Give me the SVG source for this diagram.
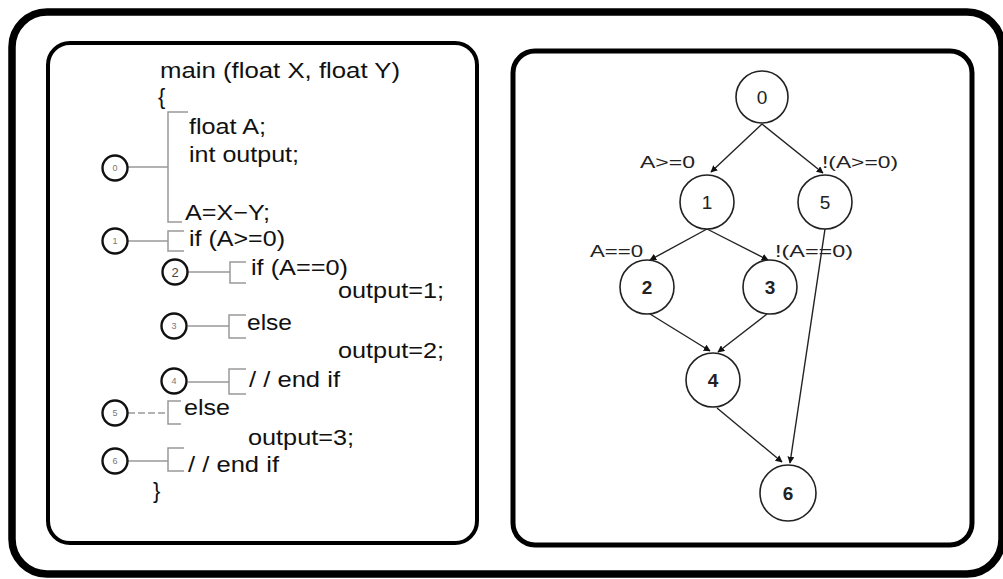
<svg xmlns="http://www.w3.org/2000/svg" width="1003" height="579" viewBox="0 0 1003 579">
<defs>
<style>
.frame{fill:none;stroke:#000}
.code{font-family:"Liberation Sans",Arial,sans-serif;font-size:22px;fill:#111}
.tag{fill:#fff;stroke:#111;stroke-width:2.4}
.tagt{font-family:"Liberation Sans",Arial,sans-serif;font-size:9px;fill:#777;text-anchor:middle}
.lead{fill:none;stroke:#999;stroke-width:1.5}
.node{fill:#fff;stroke:#222;stroke-width:1.6}
.nodet{font-family:"Liberation Sans",Arial,sans-serif;font-size:19px;fill:#222;text-anchor:middle}
.edge{fill:none;stroke:#222;stroke-width:1.4;marker-end:url(#arr)}
.elab{font-family:"Liberation Sans",Arial,sans-serif;font-size:17px;fill:#222}
</style>
<marker id="arr" viewBox="0 0 10 10" refX="9" refY="5" markerWidth="7" markerHeight="7" orient="auto" markerUnits="userSpaceOnUse">
<path d="M0,0 L10,5 L0,10 z" fill="#111"/>
</marker>
</defs>
<rect width="1003" height="579" fill="#fff"/>
<rect class="frame" x="12" y="12" width="990" height="562" rx="35" stroke-width="7.5"/>
<rect class="frame" x="48" y="43" width="429" height="500" rx="22" stroke-width="4"/>
<rect class="frame" x="513" y="51" width="459" height="494" rx="22" stroke-width="5"/>

<g id="code">
<text class="code" x="160" y="78" textLength="240" lengthAdjust="spacingAndGlyphs">main (float X, float Y)</text>
<text class="code" x="158" y="104">{</text>
<text class="code" x="189" y="134" textLength="77" lengthAdjust="spacingAndGlyphs">float A;</text>
<text class="code" x="189" y="162" textLength="110" lengthAdjust="spacingAndGlyphs">int output;</text>
<text class="code" x="185" y="220" textLength="85" lengthAdjust="spacingAndGlyphs">A=X−Y;</text>
<text class="code" x="189" y="246" textLength="96" lengthAdjust="spacingAndGlyphs">if (A&gt;=0)</text>
<text class="code" x="251" y="275" textLength="97" lengthAdjust="spacingAndGlyphs">if (A==0)</text>
<text class="code" x="338" y="298" textLength="106" lengthAdjust="spacingAndGlyphs">output=1;</text>
<text class="code" x="247" y="330" textLength="45" lengthAdjust="spacingAndGlyphs">else</text>
<text class="code" x="338" y="358" textLength="106" lengthAdjust="spacingAndGlyphs">output=2;</text>
<text class="code" x="249" y="387" textLength="91" lengthAdjust="spacingAndGlyphs">/ / end if</text>
<text class="code" x="184" y="415" textLength="46" lengthAdjust="spacingAndGlyphs">else</text>
<text class="code" x="248" y="445" textLength="106" lengthAdjust="spacingAndGlyphs">output=3;</text>
<text class="code" x="188" y="472" textLength="91" lengthAdjust="spacingAndGlyphs">/ / end if</text>
<text class="code" x="153" y="498">}</text>
</g>

<g id="code-leads">
<path class="lead" d="M128,167 H168 M188,112 H168 V222 H182"/>
<path class="lead" d="M128,241 H168 M184,231 H168 V251 H184"/>
<path class="lead" d="M188,272 H230 M246,262 H230 V283 H246"/>
<path class="lead" d="M188,326 H229 M246,315 H229 V338 H246"/>
<path class="lead" d="M188,382 H229 M246,369 H229 V394 H246"/>
<path class="lead" d="M128,413 H168" stroke-dasharray="7,3"/>
<path class="lead" d="M181,401 H168 V424 H181"/>
<path class="lead" d="M128,461 H168 M184,448 H168 V471 H184"/>
</g>

<g id="tag0"><circle class="tag" cx="115" cy="168" r="12.5"/><text class="tagt" x="115" y="171">0</text></g>
<g id="tag1"><circle class="tag" cx="115" cy="241" r="12.5"/><text class="tagt" x="115" y="244">1</text></g>
<g id="tag2"><circle class="tag" cx="175" cy="272" r="12.5"/><text class="tagt" x="175" y="277" style="font-size:13px;fill:#444">2</text></g>
<g id="tag3"><circle class="tag" cx="174" cy="326" r="12.5"/><text class="tagt" x="174" y="329">3</text></g>
<g id="tag4"><circle class="tag" cx="174" cy="381" r="12.5"/><text class="tagt" x="174" y="384">4</text></g>
<g id="tag5"><circle class="tag" cx="115" cy="413" r="12.5"/><text class="tagt" x="115" y="416">5</text></g>
<g id="tag6"><circle class="tag" cx="115" cy="461" r="12.5"/><text class="tagt" x="115" y="464">6</text></g>

<g id="connectors">
<line class="edge" x1="762" y1="124" x2="711" y2="172"/>
<line class="edge" x1="762" y1="124" x2="823" y2="173"/>
<line class="edge" x1="707" y1="229" x2="650" y2="260"/>
<line class="edge" x1="707" y1="229" x2="768" y2="260"/>
<line class="edge" x1="825" y1="229" x2="790" y2="463"/>
<line class="edge" x1="650" y1="314" x2="710" y2="351"/>
<line class="edge" x1="767" y1="314" x2="718" y2="352"/>
<line class="edge" x1="717" y1="408" x2="782" y2="462"/>
<text class="elab" x="640" y="168" textLength="55" lengthAdjust="spacingAndGlyphs">A&gt;=0</text>
<text class="elab" x="822" y="168" textLength="76" lengthAdjust="spacingAndGlyphs">!(A&gt;=0)</text>
<text class="elab" x="590" y="257" textLength="53" lengthAdjust="spacingAndGlyphs">A==0</text>
<text class="elab" x="775" y="257" textLength="78" lengthAdjust="spacingAndGlyphs">!(A==0)</text>
</g>

<g id="n0"><circle class="node" cx="762" cy="97" r="26"/><text class="nodet" x="762" y="104">0</text></g>
<g id="n1"><circle class="node" cx="707" cy="202" r="27"/><text class="nodet" x="707" y="209">1</text></g>
<g id="n5"><circle class="node" cx="825" cy="202" r="27"/><text class="nodet" x="825" y="209">5</text></g>
<g id="n2"><circle class="node" cx="647" cy="287" r="27"/><text class="nodet" x="647" y="294" font-weight="bold">2</text></g>
<g id="n3"><circle class="node" cx="770" cy="287" r="27"/><text class="nodet" x="770" y="294" font-weight="bold">3</text></g>
<g id="n4"><circle class="node" cx="713" cy="380" r="27"/><text class="nodet" x="713" y="387" font-weight="bold">4</text></g>
<g id="n6"><circle class="node" cx="788" cy="493" r="28"/><text class="nodet" x="788" y="500" font-weight="bold">6</text></g>
</svg>
